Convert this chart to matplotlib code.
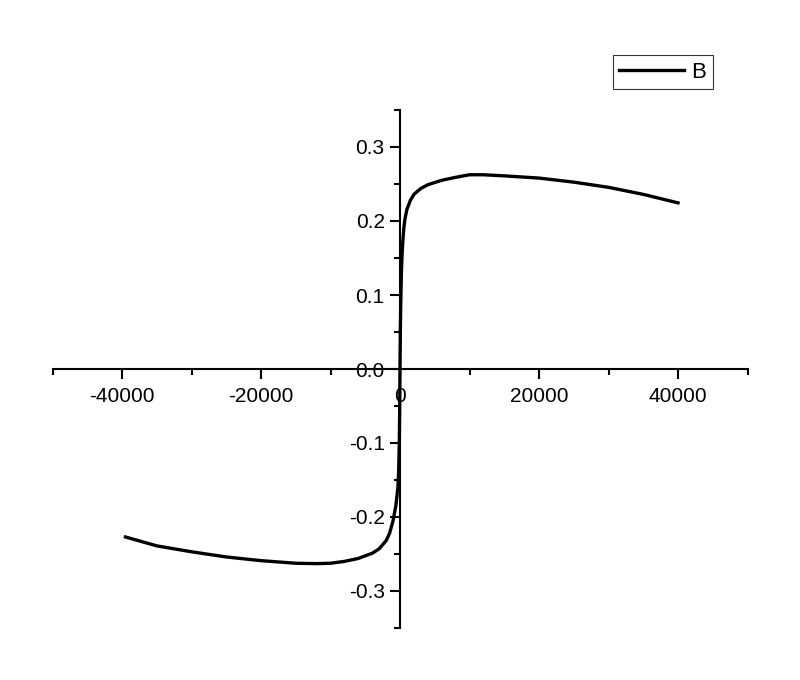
import matplotlib
matplotlib.use("Agg")
import matplotlib.pyplot as plt
from matplotlib.ticker import MultipleLocator
import numpy as np

plt.rcParams['font.family'] = ['Liberation Sans', 'DejaVu Sans']
plt.rcParams['axes.unicode_minus'] = False

# Right branch (positive field)
x_pos = [0, 50, 100, 200, 300, 400, 550, 700, 1000, 1500, 2000, 3000, 4000,
         5000, 6000, 8000, 10000, 12000, 15000, 20000, 25000, 30000, 35000, 40000]
y_pos = [0.0, 0.05, 0.085, 0.13, 0.155, 0.172, 0.19, 0.202, 0.216, 0.228, 0.236, 0.244,
         0.249, 0.252, 0.255, 0.259, 0.2625, 0.2625, 0.261, 0.258, 0.2525, 0.2455,
         0.236, 0.2245]
# Left branch (negative field)
x_neg = [-39500, -35000, -30000, -25000, -20000, -15000, -12000, -10000, -8000,
         -6000, -4000, -3000, -2000, -1500, -1000, -600, -300, -200, -100, -50, 0]
y_neg = [-0.227, -0.239, -0.247, -0.254, -0.259, -0.2625, -0.263, -0.2625, -0.260,
         -0.256, -0.249, -0.243, -0.232, -0.222, -0.205, -0.185, -0.16, -0.14,
         -0.10, -0.06, 0.0]

x_all = x_neg + x_pos[1:]
y_all = y_neg + y_pos[1:]

fig = plt.figure(figsize=(8, 6.8), dpi=100)
ax = fig.add_axes([52.5/800, 52/680, 695/800, 518/680])

ax.plot(x_all, y_all, color='black', lw=2.4, label='B', solid_joinstyle='round')

ax.set_xlim(-50000, 50000)
ax.set_ylim(-0.35, 0.35)

ax.spines['left'].set_position(('data', 0))
ax.spines['bottom'].set_position(('data', 0))
ax.spines['top'].set_visible(False)
ax.spines['right'].set_visible(False)
for s in ('left', 'bottom'):
    ax.spines[s].set_linewidth(1.5)

ax.xaxis.set_major_locator(MultipleLocator(20000))
ax.xaxis.set_minor_locator(MultipleLocator(10000))
ax.yaxis.set_major_locator(MultipleLocator(0.1))
ax.yaxis.set_minor_locator(MultipleLocator(0.05))
ax.yaxis.set_major_formatter(matplotlib.ticker.FormatStrFormatter('%.1f'))
ax.xaxis.set_major_formatter(matplotlib.ticker.FuncFormatter(lambda v, p: f"{int(round(v))}"))

ax.tick_params(which='major', direction='out', length=7, width=1.5, labelsize=15, pad=4)
ax.tick_params(which='minor', direction='out', length=4.5, width=1.5)
ax.tick_params(axis='x', which='major', pad=6)

leg = ax.legend(loc='upper right', bbox_to_anchor=(713/800, 625/680), bbox_transform=fig.transFigure,
                frameon=True, fancybox=False, fontsize=16, handlelength=2.9,
                borderpad=0.3, handletextpad=0.35, borderaxespad=0)
leg.get_frame().set_edgecolor('black')
leg.get_frame().set_linewidth(0.8)

fig.savefig('out.png', dpi=100)
